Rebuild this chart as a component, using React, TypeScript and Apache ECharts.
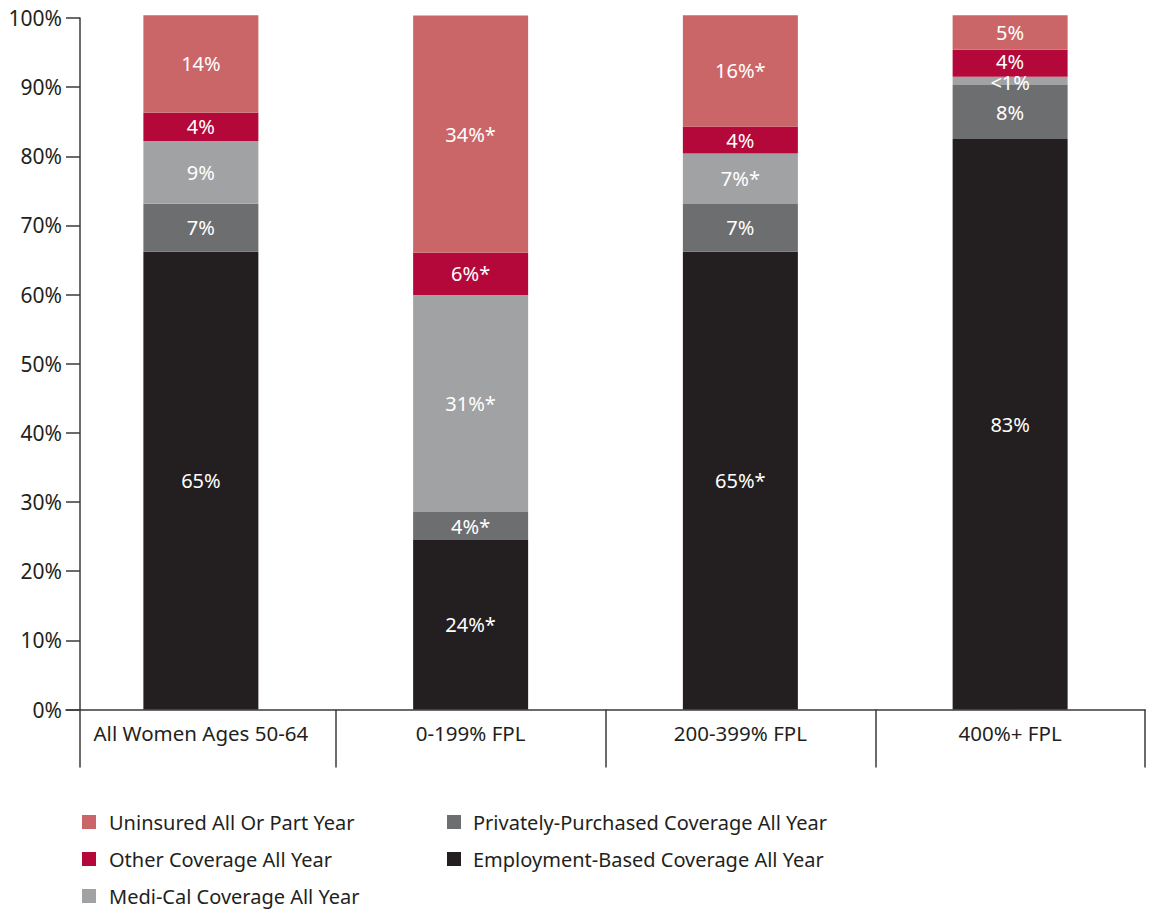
import React, { useEffect, useRef } from "react";
import * as echarts from "echarts";

const categories = ["All Women Ages 50-64", "0-199% FPL", "200-399% FPL", "400%+ FPL"];

const employmentValues = [66.2, 24.5, 66.2, 82.5];
const privateValues = [6.95, 4.05, 6.9, 7.8];
const mediCalValues = [9.05, 31.4, 7.3, 1.2];
const otherValues = [4.1, 6.1, 3.9, 3.9];
const uninsuredValues = [14.1, 34.3, 16.1, 5.0];

const employmentLabels = ["65%", "24%*", "65%*", "83%"];
const privateLabels = ["7%", "4%*", "7%", "8%"];
const mediCalLabels = ["9%", "31%*", "7%*", "<1%"];
const otherLabels = ["4%", "6%*", "4%", "4%"];
const uninsuredLabels = ["14%", "34%*", "16%*", "5%"];

const yTicks = [0, 10, 20, 30, 40, 50, 60, 70, 80, 90, 100];

const FONT = "Noto Sans";
const TEXT = "#231f20";
const AXIS = "#3a3a3a";

export default function App() {
  const ref = useRef<HTMLDivElement>(null);
  useEffect(() => {
    document.body.style.margin = "0";
    if (!ref.current) return;
    const chart = echarts.init(ref.current, null, { renderer: "svg" });
    const mk = (
      name: string,
      values: number[],
      labels: string[],
      color: string,
      labelShift: Record<number, number> = {}
    ) => ({
      name,
      type: "bar",
      stack: "total",
      xAxisIndex: 0,
      yAxisIndex: 0,
      barWidth: 115,
      clip: false,
      data: values.map((v, i) =>
        labelShift[i] !== undefined ? { value: v, label: { offset: [0, labelShift[i]] } } : v
      ),
      itemStyle: { color },
      label: {
        show: true,
        position: "inside",
        color: "#ffffff",
        fontFamily: FONT,
        fontSize: 20,
        lineHeight: 16,
        formatter: (p: any) => labels[p.dataIndex],
      },
    });
    const legendText = { color: TEXT, fontSize: 20, fontFamily: FONT, lineHeight: 22 };
    chart.setOption({
      animation: false,
      textStyle: { fontFamily: FONT },
      grid: [
        { left: 66, right: 6, top: 18, bottom: 910 - 709.5 },
        { left: 66, right: 6, top: 709.5, bottom: 910 - 767 },
      ],
      xAxis: [
        {
          gridIndex: 0,
          type: "category",
          data: categories,
          axisLine: { show: true, lineStyle: { color: AXIS, width: 1.5 } },
          axisTick: {
            show: true,
            length: 58,
            interval: (i: number) => i !== 0,
            lineStyle: { color: AXIS, width: 1.5 },
          },
          axisLabel: { color: TEXT, fontSize: 20.5, fontFamily: FONT, margin: 13, interval: 0 },
        },
        { gridIndex: 1, type: "category", data: categories, show: false },
      ],
      yAxis: [
        {
          gridIndex: 0,
          type: "value",
          min: yTicks[0],
          max: yTicks[yTicks.length - 1],
          interval: 10,
          offset: -14,
          axisLine: { show: true, lineStyle: { color: AXIS, width: 1.5 } },
          axisTick: { show: true, length: 14, lineStyle: { color: AXIS, width: 1.5 } },
          splitLine: { show: false },
          axisLabel: { color: TEXT, fontSize: 21, fontFamily: FONT, margin: 18, formatter: "{value}%" },
        },
        {
          gridIndex: 1,
          type: "value",
          min: 0,
          max: 1,
          offset: -14,
          axisLine: { show: true, lineStyle: { color: AXIS, width: 1.5 } },
          axisTick: { show: false },
          axisLabel: { show: false },
          splitLine: { show: false },
        },
      ],
      legend: [
        {
          data: ["Uninsured All Or Part Year", "Other Coverage All Year", "Medi-Cal Coverage All Year"],
          orient: "vertical",
          left: 82,
          top: 811,
          height: 200,
          padding: 0,
          itemWidth: 14,
          itemHeight: 14,
          itemGap: 15,
          icon: "rect",
          textStyle: { ...legendText, padding: [0, 0, 0, 8] },
        },
        {
          data: ["Privately-Purchased Coverage All Year", "Employment-Based Coverage All Year"],
          orient: "vertical",
          left: 447,
          top: 811,
          height: 200,
          padding: 0,
          itemWidth: 14,
          itemHeight: 14,
          itemGap: 15,
          icon: "rect",
          textStyle: { ...legendText, padding: [0, 0, 0, 7] },
        },
      ],
      series: [
        mk("Employment-Based Coverage All Year", employmentValues, employmentLabels, "#231f20"),
        mk("Privately-Purchased Coverage All Year", privateValues, privateLabels, "#6d6e70"),
        mk("Medi-Cal Coverage All Year", mediCalValues, mediCalLabels, "#a1a2a4", { 3: 2 }),
        mk("Other Coverage All Year", otherValues, otherLabels, "#b5083a", { 3: -2 }),
        mk("Uninsured All Or Part Year", uninsuredValues, uninsuredLabels, "#cb6668"),
      ],
    });
    return () => chart.dispose();
  }, []);
  return <div ref={ref} style={{ width: 1151, height: 910 }} />;
}
